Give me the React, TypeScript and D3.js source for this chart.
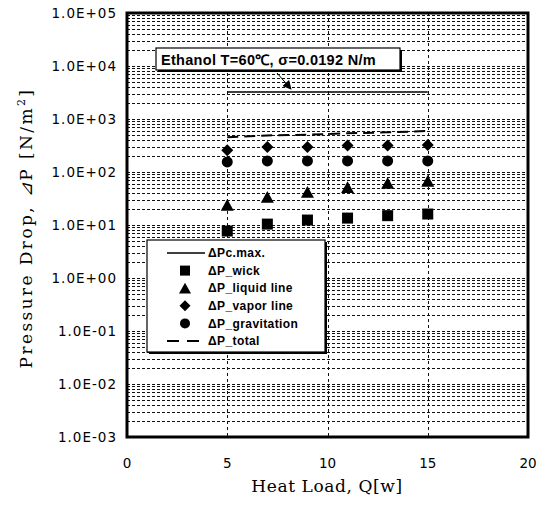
import React from "react";
import * as d3 from "d3";

const W = 546;
const H = 506;

// Data
const loads = [5, 7, 9, 11, 13, 15];
const pcMaxLoads = [5, 15];
const pcMax = [3230, 3230];
const wick = [7.7, 10.4, 12.4, 13.5, 15, 16.1];
const liquidLine = [24, 34, 42, 52, 62, 68];
const vaporLine = [258, 297, 297, 316, 316, 323];
const gravitation = [155, 162, 162, 162, 162, 162];
const total = [452, 490, 505, 537, 560, 594];

const xTicks = [0, 5, 10, 15, 20];
const xGrid = [5, 10, 15];
const yTickValues = [1e-3, 1e-2, 1e-1, 1e0, 1e1, 1e2, 1e3, 1e4, 1e5];
const yTickLabels = [
  "1.0E-03",
  "1.0E-02",
  "1.0E-01",
  "1.0E+00",
  "1.0E+01",
  "1.0E+02",
  "1.0E+03",
  "1.0E+04",
  "1.0E+05",
];
const legendLabels = [
  "ΔPc.max.",
  "ΔP_wick",
  "ΔP_liquid line",
  "ΔP_vapor line",
  "ΔP_gravitation",
  "ΔP_total",
];
const annotationText = "Ethanol T=60℃, σ=0.0192 N/m";

const PL = 127,
  PR = 528,
  PT = 13,
  PB = 437;

function Square({ cx, cy, s = 11 }: { cx: number; cy: number; s?: number }) {
  return <rect x={cx - s / 2} y={cy - s / 2} width={s} height={s} fill="#000" />;
}
function Triangle({ cx, cy, s = 13 }: { cx: number; cy: number; s?: number }) {
  const h = s * 0.9;
  return (
    <path
      d={`M${cx},${cy - h / 2}L${cx + s / 2},${cy + h / 2}L${cx - s / 2},${cy + h / 2}Z`}
      fill="#000"
    />
  );
}
function Diamond({ cx, cy, s = 12 }: { cx: number; cy: number; s?: number }) {
  return (
    <path
      d={`M${cx},${cy - s / 2}L${cx + s / 2},${cy}L${cx},${cy + s / 2}L${cx - s / 2},${cy}Z`}
      fill="#000"
    />
  );
}
function Circle({ cx, cy, r = 5.5 }: { cx: number; cy: number; r?: number }) {
  return <circle cx={cx} cy={cy} r={r} fill="#000" />;
}

export default function App() {
  const x = d3.scaleLinear().domain([0, 20]).range([PL, PR]);
  const y = d3.scaleLog().domain([1e-3, 1e5]).range([PB, PT]);

  const minor: number[] = [];
  for (let d = -3; d <= 4; d++) {
    for (let k = 1; k <= 9; k++) {
      const v = k * Math.pow(10, d);
      if (v > 1e-3 && v < 1e5) minor.push(v);
    }
  }
  const snap = (v: number) => Math.round(v) + 0.5;

  const line = d3
    .line<[number, number]>()
    .x((d) => x(d[0]))
    .y((d) => y(d[1]));

  const totalPath = line(loads.map((l, i) => [l, total[i]] as [number, number])) || "";
  const pcPath = line(pcMaxLoads.map((l, i) => [l, pcMax[i]] as [number, number])) || "";

  const legX = 147,
    legY = 240,
    legW = 178,
    legH = 112;
  const rowY = (i: number) => legY + 13 + i * 17.6;
  const symX = 185;

  const ann = { x: 156, y: 48, w: 244, h: 22 };

  return (
    <svg
      width={W}
      height={H}
      style={{ position: "absolute", left: 0, top: 0, background: "#fff" }}
    >
      <defs>
        <marker
          id="arr"
          viewBox="0 0 10 10"
          refX="9"
          refY="5"
          markerWidth="9"
          markerHeight="9"
          orient="auto"
          markerUnits="userSpaceOnUse"
        >
          <path d="M0,0L10,5L0,10Z" fill="#000" />
        </marker>
        <clipPath id="plot">
          <rect x={PL} y={PT} width={PR - PL} height={PB - PT} />
        </clipPath>
      </defs>
      <rect x={0} y={0} width={W} height={H} fill="#fff" />

      {/* grid */}
      <g clipPath="url(#plot)" shapeRendering="crispEdges">
        {minor.map((v, i) => (
          <line
            key={"h" + i}
            x1={PL}
            x2={PR}
            y1={snap(y(v))}
            y2={snap(y(v))}
            stroke="#111"
            strokeWidth={1}
            strokeDasharray="3,2"
          />
        ))}
        {xGrid.map((v) => (
          <line
            key={"v" + v}
            x1={snap(x(v))}
            x2={snap(x(v))}
            y1={PT}
            y2={PB}
            stroke="#111"
            strokeWidth={1}
            strokeDasharray="3,3"
          />
        ))}
      </g>

      {/* frame */}
      <rect
        x={PL}
        y={PT}
        width={PR - PL}
        height={PB - PT}
        fill="none"
        stroke="#000"
        strokeWidth={3}
      />

      {/* y tick labels */}
      {yTickValues.map((v, i) => (
        <text
          key={"yl" + i}
          x={117}
          y={y(v)}
          dy="0.35em"
          textAnchor="end"
          fontFamily="DejaVu Sans, sans-serif"
          fontSize={13.5}
          letterSpacing={1}
          fill="#000"
        >
          {yTickLabels[i]}
        </text>
      ))}
      {/* x tick labels */}
      {xTicks.map((v) => (
        <text
          key={"xl" + v}
          x={x(v)}
          y={463}
          dy="0.35em"
          textAnchor="middle"
          fontFamily="DejaVu Sans, sans-serif"
          fontSize={13.5}
          fill="#000"
        >
          {v}
        </text>
      ))}

      {/* axis titles */}
      <text
        x={327}
        y={486}
        dy="0.35em"
        textAnchor="middle"
        fontFamily="DejaVu Serif, serif"
        fontSize={17}
        letterSpacing={0.6}
        fill="#000"
      >
        Heat Load, Q[w]
      </text>
      <text
        transform={`translate(26,228) rotate(-90)`}
        textAnchor="middle"
        dy="0.35em"
        fontFamily="DejaVu Serif, serif"
        fontSize={17}
        letterSpacing={2.4}
        fill="#000"
      >
        Pressure Drop, <tspan fontStyle="italic">⊿</tspan>P [N/m
        <tspan dy="-7" fontSize={11}>
          2
        </tspan>
        <tspan dy="7">]</tspan>
      </text>

      {/* series */}
      <path d={pcPath} fill="none" stroke="#000" strokeWidth={1.6} />
      <path
        d={totalPath}
        fill="none"
        stroke="#000"
        strokeWidth={2}
        strokeDasharray="11,6"
      />
      {loads.map((l, i) => (
        <Circle key={"g" + i} cx={x(l)} cy={y(gravitation[i])} />
      ))}
      {loads.map((l, i) => (
        <Diamond key={"vp" + i} cx={x(l)} cy={y(vaporLine[i])} />
      ))}
      {loads.map((l, i) => (
        <Triangle key={"lq" + i} cx={x(l)} cy={y(liquidLine[i])} />
      ))}
      {loads.map((l, i) => (
        <Square key={"w" + i} cx={x(l)} cy={y(wick[i])} />
      ))}

      {/* annotation */}
      <rect x={ann.x + 2} y={ann.y + 2} width={ann.w} height={ann.h} fill="#000" />
      <rect
        x={ann.x}
        y={ann.y}
        width={ann.w}
        height={ann.h}
        fill="#fff"
        stroke="#000"
        strokeWidth={1.2}
      />
      <text
        x={ann.x + 5}
        y={ann.y + ann.h / 2 + 1}
        dy="0.35em"
        fontFamily="Liberation Sans, Arial, sans-serif"
        fontWeight="bold"
        fontSize={14.5}
        letterSpacing={0.3}
        fill="#000"
      >
        {annotationText}
      </text>
      <line
        x1={277}
        y1={73}
        x2={291}
        y2={89}
        stroke="#000"
        strokeWidth={1}
        markerEnd="url(#arr)"
      />

      {/* legend */}
      <rect x={legX + 2} y={legY + 2} width={legW} height={legH} fill="#000" />
      <rect
        x={legX}
        y={legY}
        width={legW}
        height={legH}
        fill="#fff"
        stroke="#000"
        strokeWidth={1.2}
      />
      <line x1={167} x2={205} y1={rowY(0)} y2={rowY(0)} stroke="#000" strokeWidth={1.6} />
      <Square cx={symX} cy={rowY(1)} s={10} />
      <Triangle cx={symX} cy={rowY(2)} s={12} />
      <Diamond cx={symX} cy={rowY(3)} s={11} />
      <Circle cx={symX} cy={rowY(4)} r={5} />
      <line
        x1={167}
        x2={205}
        y1={rowY(5)}
        y2={rowY(5)}
        stroke="#000"
        strokeWidth={2}
        strokeDasharray="12,8"
      />
      {legendLabels.map((t, i) => (
        <text
          key={"lg" + i}
          x={208}
          y={rowY(i)}
          dy="0.35em"
          fontFamily="Liberation Sans, Arial, sans-serif"
          fontWeight="bold"
          fontSize={12}
          letterSpacing={0.4}
          fill="#000"
        >
          {t}
        </text>
      ))}
    </svg>
  );
}
